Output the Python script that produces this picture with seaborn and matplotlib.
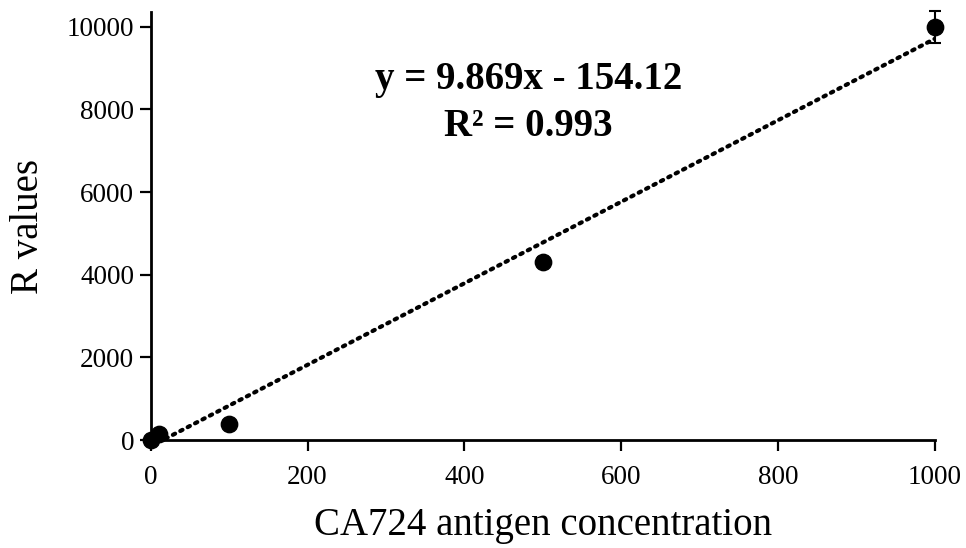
import numpy as np
import pandas as pd
import matplotlib.pyplot as plt
import seaborn as sns

# data
concentration = [0, 10, 100, 500, 1000]
r_values = [0, 150, 390, 4310, 10000]
r_error = [30, 40, 50, 120, 380]

slope = 9.869
intercept = -154.12
r_squared = 0.993

x_ticks = [0, 200, 400, 600, 800, 1000]
y_ticks = [0, 2000, 4000, 6000, 8000, 10000]

sns.set_style("ticks")
plt.rcParams['font.family'] = ['Liberation Serif', 'DejaVu Serif']
plt.rcParams['text.color'] = 'black'
plt.rcParams['axes.labelcolor'] = 'black'
plt.rcParams['xtick.color'] = 'black'
plt.rcParams['ytick.color'] = 'black'
plt.rcParams['axes.edgecolor'] = 'black'

df = pd.DataFrame({'conc': concentration, 'r': r_values, 'err': r_error})
fit_x = np.array([concentration[0], concentration[-1]])
fit = pd.DataFrame({'conc': fit_x, 'r': slope * fit_x + intercept})

fig = plt.figure(figsize=(9.66, 5.48), dpi=100)
ax = fig.add_axes([150.7 / 966, 108 / 548, (935 - 150.7) / 966, (440 - 12) / 548])

# trend line (dotted)
sns.lineplot(data=fit, x='conc', y='r', ax=ax, color='black', lw=3,
             linestyle=(0, (0.6, 1.4)), dash_capstyle='round')

# error bars + points
ax.errorbar(df['conc'], df['r'], yerr=df['err'], fmt='none', ecolor='black',
            elinewidth=1.5, capsize=4, capthick=1.5, clip_on=False, zorder=3)
sns.scatterplot(data=df, x='conc', y='r', ax=ax, color='black', s=140,
                edgecolor='black', clip_on=False, zorder=4)

ax.set_xlim(0, 1000)
ax.set_ylim(0, 10360)
ax.set_xticks(x_ticks)
ax.set_yticks(y_ticks)
ax.tick_params(axis='both', labelsize=19.5, length=8, width=1.6, direction='out')
ax.tick_params(axis='x', pad=10)
ax.tick_params(axis='y', pad=4)
for s in ['left', 'bottom']:
    ax.spines[s].set_linewidth(2)
sns.despine(ax=ax)

ax.set_xlabel('CA724 antigen concentration', fontsize=28, labelpad=12)
ax.set_ylabel('R values', fontsize=28, labelpad=14)

ax.text(0.482, 0.787, f'y = {slope}x - {abs(intercept)}\nR² = {r_squared:.3f}',
        transform=ax.transAxes, ha='center', va='center', fontsize=28,
        fontweight='bold', linespacing=1.38)

fig.savefig('out.png', dpi=100)
